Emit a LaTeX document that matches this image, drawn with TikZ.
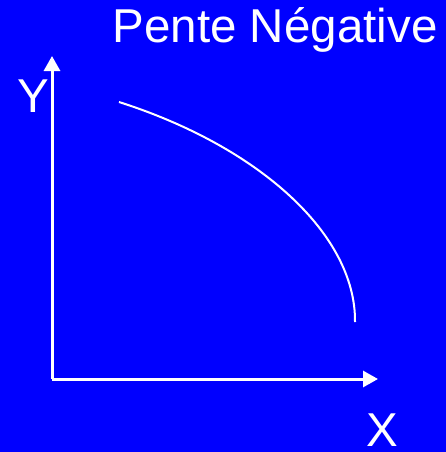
\documentclass[tikz,border=0pt]{standalone}
\usepackage{fontspec}
\setmainfont{Liberation Sans}
\usetikzlibrary{arrows.meta}

\definecolor{slideblue}{RGB}{0,0,255}

\begin{document}
\begin{tikzpicture}[x=1pt, y=-1pt, >={Triangle[length=15pt,width=16pt]},
  every node/.style={font=\fontsize{47.5}{56}\selectfont, text=white, inner sep=0pt},
  axis/.style={white, line width=3pt, ->},
  courbe/.style={white, line width=2pt}]

  % =========================
  % background
  % =========================
  \fill[slideblue] (0,0) rectangle (446,452);
  \useasboundingbox (0,0) rectangle (446,452);

  % title
  \node[anchor=base west] (titre) at (112.5,43) {Pente Négative};

  % axes
  \coordinate (O) at (52,379);
  \coordinate (ytip) at (52,56);
  \coordinate (xtip) at (378,379);
  \draw[axis] (O) -- (ytip);
  \draw[axis] (O) -- (xtip);

  \node[anchor=base west] (Y) at (17,112) {Y};
  \node[anchor=base west] (X) at (366,446) {X};

  % decreasing curve
  \coordinate (debut) at (119,102);
  \coordinate (fin) at (355,322);
  \draw[courbe] (debut) .. controls (260,147) and (356,235) .. (fin);

\end{tikzpicture}
\end{document}
